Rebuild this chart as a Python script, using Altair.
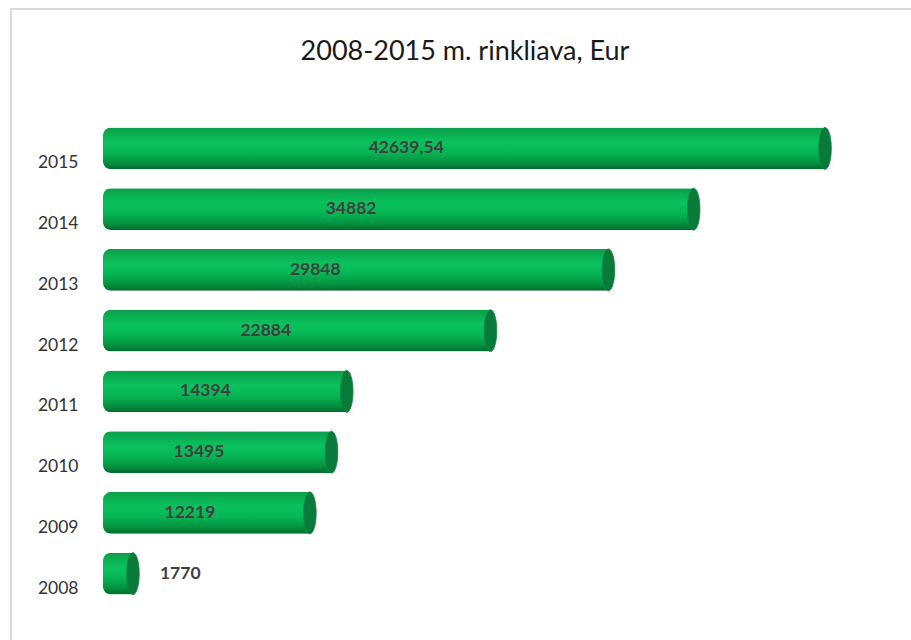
import altair as alt
import pandas as pd

title_text = "2008-2015 m. rinkliava, Eur"
years = ["2015", "2014", "2013", "2012", "2011", "2010", "2009", "2008"]
values = [42639.54, 34882, 29848, 22884, 14394, 13495, 12219, 1770]
labels = ["42639,54", "34882", "29848", "22884", "14394", "13495", "12219", "1770"]

df = pd.DataFrame({"year": years, "value": values, "label": labels})

W, H = 762, 486
FONT = "Lato"

ysc = alt.Scale(paddingInner=0.31, paddingOuter=0.155)
y_axis = alt.Y("year:N", sort=years, scale=ysc,
               axis=alt.Axis(title=None, ticks=False, domain=False, grid=False,
                             labelOffset=15, labelPadding=25, labelFontSize=17.5,
                             labelColor="#333333", labelFont=FONT))
xsc = alt.Scale(domain=[0, 45000], nice=False)
x = alt.X("value:Q", scale=xsc, axis=None)

grad = alt.Gradient(
    gradient="linear", x1=0, x2=0, y1=0, y2=1,
    stops=[
        alt.GradientStop(color="#0a9e48", offset=0),
        alt.GradientStop(color="#0bc25e", offset=0.35),
        alt.GradientStop(color="#06b554", offset=0.6),
        alt.GradientStop(color="#03903f", offset=0.85),
        alt.GradientStop(color="#016a2c", offset=1),
    ],
)

base = alt.Chart(df)
bars = base.mark_bar(color=grad, cornerRadiusTopLeft=8, cornerRadiusBottomLeft=8).encode(
    x=x, y=y_axis)

ellipse = "M 0,-1 A 0.3,1 0 1,1 0,1 A 0.3,1 0 1,1 0,-1 Z"
caps = base.mark_point(shape=ellipse, size=42 * 42, filled=True, fill="#0a7a3a",
                       opacity=1, stroke="#0a8a42", strokeWidth=0.8).encode(x=x, y=y_axis)

inner = base.transform_filter("datum.value > 5000").transform_calculate(
    lx="datum.value * 0.42").mark_text(
    font=FONT, fontSize=17.5, fontWeight="bold", color="#404040", align="center",
    baseline="middle").encode(
    x=alt.X("lx:Q", scale=xsc, axis=None),
    y=y_axis, text="label:N")

outer = base.transform_filter("datum.value <= 5000").mark_text(
    font=FONT, fontSize=17.5, fontWeight="bold", color="#404040", align="left",
    baseline="middle", dx=27).encode(x=x, y=y_axis, text="label:N")

one = alt.Chart(pd.DataFrame({"t": [title_text]}))
title = one.mark_text(font=FONT, fontSize=27, color="#1a1a1a", align="center",
                      baseline="alphabetic").encode(
    text="t:N", x=alt.value(362), y=alt.value(-58))
left_border = one.mark_rule(color="#d9d9d9", strokeWidth=2).encode(
    x=alt.value(-92), y=alt.value(-109), y2=alt.value(H + 40))
top_border = one.mark_rule(color="#d9d9d9", strokeWidth=2).encode(
    x=alt.value(-93), x2=alt.value(W + 60), y=alt.value(-109))

chart = alt.layer(bars, caps, inner, outer, left_border, top_border, title).properties(
    width=W, height=H,
    background="white",
    autosize=alt.AutoSizeParams(type="none"),
    padding={"left": 103, "top": 118, "right": 46, "bottom": 36},
).configure_view(strokeWidth=0)

chart.save("out.html", embed_options={"renderer": "svg", "actions": False})
